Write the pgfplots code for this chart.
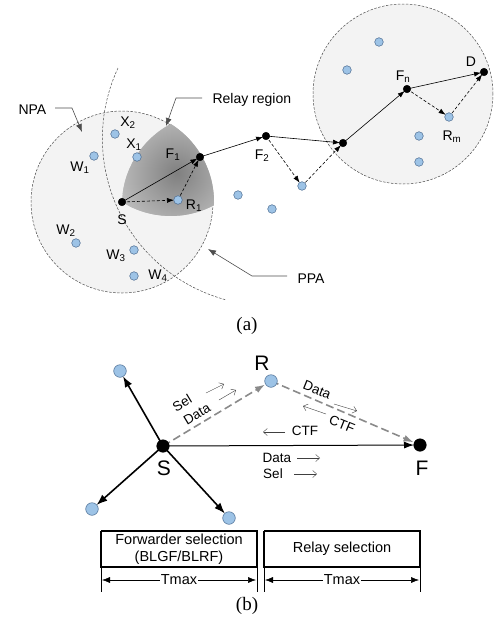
\documentclass[border=0pt]{standalone}
\usepackage{pgfplots}
\pgfplotsset{compat=1.18}
\usepackage{fontspec}
\setmainfont{Liberation Sans}
\newfontfamily\serifcap{Liberation Serif}
\usetikzlibrary{arrows.meta}

\definecolor{nblue}{HTML}{9DC3E6}
\definecolor{nedge}{HTML}{4A6A90}
\definecolor{lgray}{HTML}{F3F3F3}
\definecolor{lead}{HTML}{4D4D4D}
\definecolor{dgray}{HTML}{8A8A8A}

\begin{document}
\begin{tikzpicture}
\begin{axis}[
  width=495pt, height=633pt, scale only axis,
  xmin=0, xmax=495, ymin=0, ymax=633,
  y dir=reverse, hide axis, clip=false,
  sol/.style={black, line width=0.6pt, -{Latex[length=7pt,width=5pt]}},
  das/.style={sol, dash pattern=on 3pt off 2pt},
  ldr/.style={lead, line width=0.6pt, -{Latex[length=8pt,width=6pt]}},
  big/.style={black, line width=1.6pt, -{Latex[length=11pt,width=8pt]}},
  gdash/.style={dgray, line width=1.6pt, dash pattern=on 8pt off 4pt, -{Latex[length=10pt,width=7pt]}},
  thinarr/.style={black!75, line width=0.4pt, -{Straight Barb[length=4pt,width=7pt]}},
]
\coordinate (bl) at (axis cs:0,633);
\coordinate (tr) at (axis cs:495,0);

% ---------- (a) areas
\draw[fill=lgray, draw=black!70, dash pattern=on 2.5pt off 1.5pt, line width=0.5pt]
  (axis cs:122,202) circle[radius=91pt];
\draw[fill=lgray, draw=black!70, dash pattern=on 2.5pt off 1.5pt, line width=0.5pt]
  (axis cs:403,94) circle[radius=90pt];
% relay region
\begin{scope}
\clip (axis cs:122,202) arc[start angle=178,end angle=118,radius=92pt]
  arc[start angle=58,end angle=-2,radius=92pt]
  arc[start angle=-62,end angle=-122,radius=92pt] -- cycle;
\fill[black!27] (axis cs:175,170) circle[radius=100pt];
\shade[inner color=black!50, outer color=black!27] (axis cs:177,173) circle[radius=58pt];
\end{scope}
% PPA boundary
\draw[black!70, dash pattern=on 2.5pt off 1.5pt, line width=0.5pt]
  (axis cs:118,68) arc[start angle=155,end angle=255,radius=167pt];

% ---------- (a) leaders
\addplot[ldr] coordinates {(55,108) (72,108) (82,132)};
\addplot[ldr] coordinates {(202,98) (176,98) (166,126)};
\addplot[ldr] coordinates {(287,276) (252,276) (208,249)};

% ---------- (a) arrows
\addplot[sol, shorten >=3pt] coordinates {(122,202) (200,157)};
\addplot[das, shorten >=4pt] coordinates {(122,202) (178,200)};
\addplot[das, shorten >=3pt] coordinates {(178,200) (200,157)};
\addplot[sol, shorten >=3pt] coordinates {(200,157) (266,136)};
\addplot[das, shorten >=4pt] coordinates {(266,136) (302,186)};
\addplot[das, shorten >=3pt] coordinates {(302,186) (343,143)};
\addplot[sol, shorten >=3pt] coordinates {(266,136) (343,143)};
\addplot[sol, shorten >=3pt] coordinates {(343,143) (407,89)};
\addplot[sol, shorten >=3pt] coordinates {(407,89) (484,72)};
\addplot[das, shorten >=4pt] coordinates {(407,89) (449,117)};
\addplot[das, shorten >=3pt] coordinates {(449,117) (484,72)};

% ---------- (a) nodes
\addplot[only marks, mark=*, mark size=4.3pt, mark options={fill=nblue, draw=nedge, line width=0.5pt}]
  coordinates {(115,134) (137,157) (94,156) (178,200) (76,243) (134,250) (134,276)
  (238,195) (272,209) (302,186) (379,42) (347,70) (419,136) (419,162) (449,117)};
\addplot[only marks, mark=*, mark size=3.8pt, black]
  coordinates {(122,202) (200,157) (266,136) (343,143) (407,89) (484,72)};

% ---------- (a) labels
\begin{scope}[every node/.style={font=\fontsize{14}{16}\selectfont}]
\node[anchor=west] at (axis cs:15,110) {NPA};
\node[anchor=west] at (axis cs:209,100) {Relay region};
\node[anchor=west] at (axis cs:294,279) {PPA};
\node at (axis cs:128,123) {X\textsubscript{2}};
\node at (axis cs:134,145) {X\textsubscript{1}};
\node at (axis cs:80,168) {W\textsubscript{1}};
\node at (axis cs:173,155) {F\textsubscript{1}};
\node at (axis cs:122,220) {S};
\node at (axis cs:194,206) {R\textsubscript{1}};
\node at (axis cs:66,231) {W\textsubscript{2}};
\node at (axis cs:116,256) {W\textsubscript{3}};
\node at (axis cs:158,276) {W\textsubscript{4}};
\node at (axis cs:262,156) {F\textsubscript{2}};
\node at (axis cs:403,77) {F\textsubscript{n}};
\node at (axis cs:471,62) {D};
\node at (axis cs:452,137) {R\textsubscript{m}};
\end{scope}
\node[font=\serifcap\fontsize{19}{21}\selectfont] at (axis cs:247,326) {(a)};
\node[font=\serifcap\fontsize{19}{21}\selectfont] at (axis cs:247,606) {(b)};

% ---------- (b) arrows
\addplot[gdash, shorten >=7pt] coordinates {(163,446) (271,381)};
\addplot[gdash, shorten >=7pt] coordinates {(271,381) (420,445)};
\addplot[black, line width=1pt, -{Latex[length=10pt,width=7pt]}, shorten >=6pt] coordinates {(163,446) (420,445)};
\addplot[big, shorten >=6pt] coordinates {(163,446) (120,371)};
\addplot[big, shorten >=6pt] coordinates {(163,446) (92,509)};
\addplot[big, shorten >=6pt] coordinates {(163,446) (229,518)};

% small message arrows
\addplot[thinarr] coordinates {(206,393) (224,384)};
\addplot[thinarr] coordinates {(219,400) (236,390)};
\addplot[thinarr] coordinates {(334,404) (357,411)};
\addplot[thinarr] coordinates {(326,414) (303,406)};
\addplot[thinarr] coordinates {(285,432) (263,432)};
\addplot[thinarr] coordinates {(297,458) (320,458)};
\addplot[thinarr] coordinates {(294,474) (317,474)};

% ---------- (b) nodes
\addplot[only marks, mark=*, mark size=6.3pt, mark options={fill=nblue, draw=nedge, line width=0.5pt}]
  coordinates {(271,381) (120,371) (92,509) (229,518)};
\addplot[only marks, mark=*, mark size=6.3pt, black]
  coordinates {(163,446) (420,445)};

% ---------- (b) labels
\node[font=\fontsize{21}{23}\selectfont] at (axis cs:262,363) {R};
\node[font=\fontsize{21}{23}\selectfont] at (axis cs:164,468) {S};
\node[font=\fontsize{21}{23}\selectfont] at (axis cs:422,468) {F};
\begin{scope}[every node/.style={font=\fontsize{13.5}{15}\selectfont, inner sep=0pt}]
\node[rotate=31] at (axis cs:182,403) {Sel};
\node[rotate=31] at (axis cs:197,414) {Data};
\node[rotate=-22] at (axis cs:317,390) {Data};
\node[rotate=-22] at (axis cs:342,424) {CTF};
\node at (axis cs:305,431) {CTF};
\node at (axis cs:277,458) {Data};
\node at (axis cs:273,474) {Sel};
\end{scope}

% ---------- (b) boxes
\addplot[black, line width=2.2pt] coordinates {(101,531) (257,531) (257,567) (101,567) (101,531)};
\addplot[black, line width=2.2pt] coordinates {(264,531) (420,531) (420,567) (264,567) (264,531)};
\node[font=\fontsize{14.5}{16.5}\selectfont, align=center] at (axis cs:179,549) {Forwarder selection\\(BLGF/BLRF)};
\node[font=\fontsize{14.5}{16.5}\selectfont] at (axis cs:342,549) {Relay selection};
\addplot[black, line width=0.4pt] coordinates {(101,567) (101,592)};
\addplot[black, line width=0.4pt] coordinates {(257,567) (257,592)};
\addplot[black, line width=0.4pt] coordinates {(264,567) (264,592)};
\addplot[black, line width=0.4pt] coordinates {(420,567) (420,592)};
\addplot[black, line width=0.5pt, {Latex[length=8pt,width=6pt]}-{Latex[length=8pt,width=6pt]}] coordinates {(102,580) (256,580)};
\addplot[black, line width=0.5pt, {Latex[length=8pt,width=6pt]}-{Latex[length=8pt,width=6pt]}] coordinates {(265,580) (419,580)};
\node[fill=white, inner sep=1pt, font=\fontsize{14.5}{16}\selectfont] at (axis cs:179,580) {Tmax};
\node[fill=white, inner sep=1pt, font=\fontsize{14.5}{16}\selectfont] at (axis cs:342,580) {Tmax};
\end{axis}
\pgfresetboundingbox
\path (bl) rectangle (tr);
\end{tikzpicture}
\end{document}
